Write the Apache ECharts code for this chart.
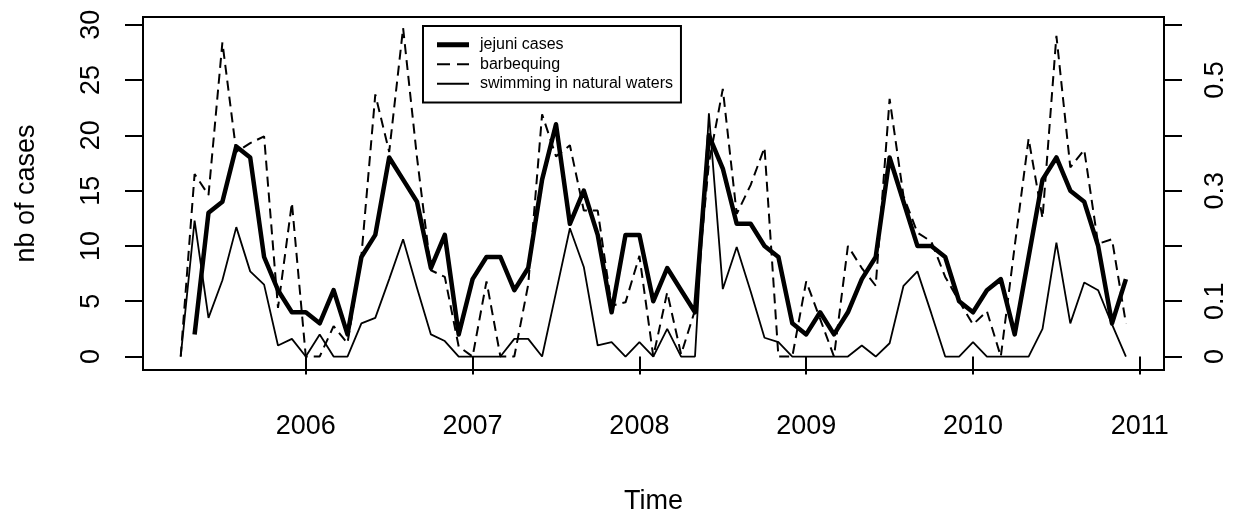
<!DOCTYPE html>
<html><head><meta charset="utf-8">
<script src="https://cdn.jsdelivr.net/npm/echarts@6/dist/echarts.min.js"></script>
<style>html,body{margin:0;padding:0;background:#fff}#c{width:1234px;height:520px}</style>
</head><body><div id="c"></div>
<script>
// ---- data (monthly) ----
const startYear = 2005;
const jejuniStartMonth = 5;    // May 2005
const exposureStartMonth = 4;  // April 2005
const seriesNames = ['jejuni cases', 'barbequing', 'swimming in natural waters'];

// number of jejuni cases, May 2005 .. Dec 2010
const jejuniCases = [
  2, 13, 14, 19, 18, 9, 6, 4,
  4, 3, 6, 2, 9, 11, 18, 16, 14, 8, 11, 2,
  7, 9, 9, 6, 8, 16, 21, 12, 15, 11, 4, 11,
  11, 5, 8, 6, 4, 20, 17, 12, 12, 10, 9, 3,
  2, 4, 2, 4, 7, 9, 18, 14, 10, 10, 9, 5,
  4, 6, 7, 2, 9, 16, 18, 15, 14, 10, 3, 7
];
// proportion, Apr 2005 .. Dec 2010
const barbequing = [
  0, 0.33, 0.292, 0.568, 0.37, 0.386, 0.398, 0.088, 0.278,
  0, 0, 0.055, 0.024, 0.182, 0.474, 0.37, 0.594, 0.36, 0.156, 0.144, 0.018,
  0, 0.136, 0, 0, 0.13, 0.438, 0.362, 0.382, 0.264, 0.264, 0.092, 0.098,
  0.182, 0, 0.116, 0.004, 0.084, 0.35, 0.484, 0.258, 0.31, 0.378, 0, 0,
  0.136, 0.068, 0, 0.2, 0.16, 0.128, 0.466, 0.29, 0.224, 0.208, 0.144, 0.1,
  0.058, 0.082, 0, 0.2, 0.394, 0.25, 0.58, 0.342, 0.374, 0.204, 0.212, 0.06
];
const swimming = [
  0, 0.246, 0.07, 0.138, 0.234, 0.154, 0.13, 0.02, 0.032,
  0, 0.04, 0, 0, 0.06, 0.07, 0.14, 0.212, 0.124, 0.04, 0.028, 0,
  0, 0, 0, 0.032, 0.032, 0, 0.116, 0.232, 0.162, 0.02, 0.026, 0,
  0.026, 0, 0.05, 0, 0, 0.44, 0.122, 0.198, 0.118, 0.034, 0.026, 0,
  0, 0, 0, 0, 0.02, 0, 0.024, 0.128, 0.154, 0.078, 0, 0,
  0.026, 0, 0, 0, 0, 0.05, 0.206, 0.06, 0.134, 0.12, 0.058, 0
];

const xTicks = [2006, 2007, 2008, 2009, 2010, 2011];
const leftTicks = [0, 5, 10, 15, 20, 25, 30];
const rightTicks = [0, 0.1, 0.2, 0.3, 0.4, 0.5, 0.6];
const rightLabels = [0, 0.1, 0.3, 0.5];

function toPairs(values, startMonth) {
  return values.map((v, i) => [startYear + (startMonth - 1 + i) / 12, v]);
}

const FONT = 'Liberation Sans, Arial, Helvetica, sans-serif';
const INK = '#000';

// legend key glyphs (32 x 14 boxes): thick solid, dashed, thin solid
const BOX = 'M0,0h0.01v0.01h-0.01z M31.99,13.99h0.01v0.01h-0.01z ';
const legendIcons = [
  'path://' + BOX + 'M0,4.6h32v4.8h-32z',
  'path://' + BOX + 'M0,6h13v2h-13z M20,6h12v2h-12z',
  'path://' + BOX + 'M0,6.1h32v1.8h-32z'
];

const chart = echarts.init(document.getElementById('c'), null, {renderer: 'canvas'});
chart.setOption({
  animation: false,
  backgroundColor: '#fff',
  grid: {left: 143, right: 70, top: 17, bottom: 136, show: true,
         borderColor: INK, borderWidth: 2, backgroundColor: 'transparent'},
  legend: {
    orient: 'vertical', left: 423, top: 26,
    itemWidth: 32, itemHeight: 14, itemGap: 0,
    padding: [9, 8, 9, 14],
    borderColor: INK, borderWidth: 2, backgroundColor: '#fff',
    itemStyle: {color: INK, borderWidth: 0},
    textStyle: {fontSize: 16, color: INK, fontFamily: FONT, lineHeight: 19.5, padding: [0, 0, 0, 6]},
    data: seriesNames.map((n, i) => ({name: n, icon: legendIcons[i]}))
  },
  xAxis: {
    type: 'value', min: 2005.024, max: 2011.145,
    axisLine: {show: false}, splitLine: {show: false},
    axisTick: {show: true, customValues: xTicks, length: 18, lineStyle: {color: INK, width: 2}},
    axisLabel: {customValues: xTicks, margin: 43, fontSize: 27, color: INK, fontFamily: FONT,
                formatter: v => String(v)},
    name: 'Time', nameLocation: 'middle', nameGap: 118,
    nameTextStyle: {fontSize: 27, color: INK, fontFamily: FONT}
  },
  yAxis: [
    {
      type: 'value', position: 'left', min: -1.217, max: 30.7,
      axisLine: {show: false}, splitLine: {show: false},
      axisTick: {show: true, customValues: leftTicks, length: 18, lineStyle: {color: INK, width: 2}},
      axisLabel: {customValues: leftTicks, rotate: 90, margin: 38, fontSize: 27, color: INK, fontFamily: FONT,
                  formatter: v => String(v)},
      name: 'nb of cases', nameLocation: 'middle', nameGap: 103, nameRotate: 90,
      nameTextStyle: {fontSize: 27, color: INK, fontFamily: FONT}
    },
    {
      type: 'value', position: 'right', min: -0.02434, max: 0.614,
      axisLine: {show: false}, splitLine: {show: false},
      axisTick: {show: true, customValues: rightTicks, length: 18, lineStyle: {color: INK, width: 2}},
      axisLabel: {customValues: rightLabels, rotate: 90, margin: 38, fontSize: 27, color: INK, fontFamily: FONT,
                  formatter: v => (v === 0 ? '0' : String(Number(v.toFixed(1))))}
    }
  ],
  series: [
    {name: seriesNames[0], type: 'line', yAxisIndex: 0, data: toPairs(jejuniCases, jejuniStartMonth),
     symbol: 'none', color: INK, lineStyle: {color: INK, width: 4.5, join: 'round'}, z: 5},
    {name: seriesNames[1], type: 'line', yAxisIndex: 1, data: toPairs(barbequing, exposureStartMonth),
     symbol: 'none', color: INK, lineStyle: {color: INK, width: 2, type: [10, 6]}, z: 4},
    {name: seriesNames[2], type: 'line', yAxisIndex: 1, data: toPairs(swimming, exposureStartMonth),
     symbol: 'none', color: INK, lineStyle: {color: INK, width: 1.8}, z: 3}
  ]
});
</script>
</body></html>
